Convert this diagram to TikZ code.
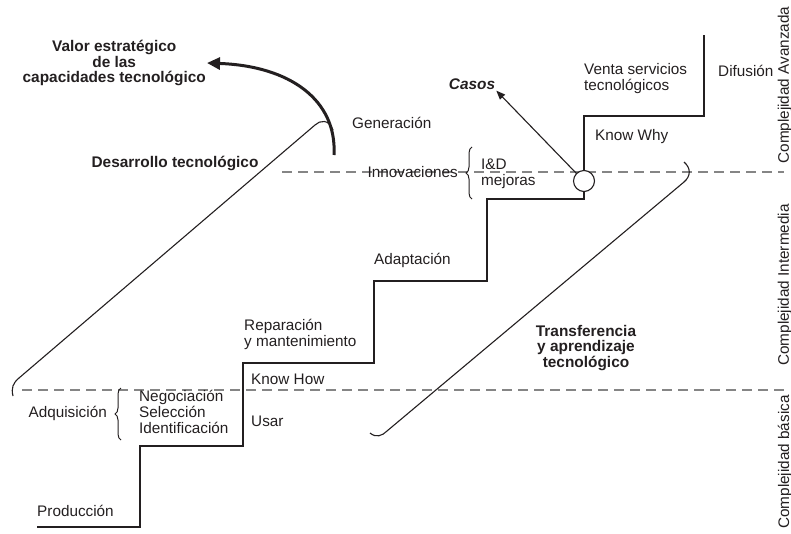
\documentclass[tikz,border=0pt]{standalone}
\usepackage{fontspec}
\setmainfont{Liberation Sans}
\usetikzlibrary{arrows.meta,decorations.pathreplacing}
\definecolor{ink}{HTML}{231F20}
\definecolor{levelgray}{HTML}{858585}

\begin{document}
\begin{tikzpicture}[x=1pt,y=-1pt,
  every node/.style={text=ink,font=\fontsize{15.3}{16}\selectfont,inner sep=1pt},
  lbl/.style={anchor=west,align=left},
  boldlbl/.style={font=\fontsize{15.4}{15.8}\selectfont\bfseries,align=center},
  level/.style={levelgray,line width=1.2pt,dash pattern=on 10pt off 6pt},
  lvltext/.style={rotate=90,anchor=center},
  diag/.style={ink,line width=1.1pt},
  stair/.style={ink,line width=1.4pt},
  bracegroup/.style={ink,line width=1pt,decorate,decoration={brace,amplitude=6pt}}]
\useasboundingbox (0,0) rectangle (791,533);

% complexity levels
\begin{scope}
  \draw[level] (22,390) -- (784,390);
  \draw[level] (282,172) -- (784,172);
  \node[lvltext] (avanzada) at (785,85) {Complejidad Avanzada};
  \node[lvltext] (intermedia) at (785,285) {Complejidad Intermedia};
  \node[lvltext] (basica) at (785,462) {Complejidad básica};
\end{scope}

% the steps
\draw[stair] (37,527) -- (140,527) -- (140,446) -- (243,446) -- (243,363)
  -- (374,363) -- (374,281) -- (487,281) -- (487,199) -- (584,199)
  -- (584,116) -- (704,116) -- (704,35);

% the two slopes
\draw[diag] (13,396) .. controls (11,388) and (13,383) .. (19,378)
  -- (315,125) .. controls (320,120) and (329,119) .. (333,130);
\draw[diag] (370,433) .. controls (376,438) and (382,436) .. (387,431)
  -- (684,182) .. controls (691,176) and (691,168) .. (684,162);

% braces
\draw[bracegroup] (121,440) -- (121,388);
\draw[bracegroup] (472,199) -- (472,147);

% labels
\node[lbl] (produccion) at (36,511) {Producción};
\node[anchor=east] (adquisicion) at (108,413) {Adquisición};
\node[lbl] (pasos) at (138,412) {Negociación\\Selección\\Identificación};
\node[lbl] (usar) at (250,421) {Usar};
\node[lbl] (knowhow) at (250,379) {Know How};
\node[lbl] (reparacion) at (243,334) {Reparación\\y mantenimiento};
\node[lbl] (adaptacion) at (373,260) {Adaptación};
\node[anchor=east] (innovaciones) at (459,172) {Innovaciones};
\node[lbl] (iyd) at (480,174) {I\&D\\mejoras};
\node[lbl] (knowwhy) at (594,137) {Know Why};
\node[lbl] (venta) at (583,79) {Venta servicios\\tecnológicos};
\node[lbl] (difusion) at (717,71) {Difusión};
\node[lbl] (generacion) at (351,123) {Generación};
\node[boldlbl] (desarrollo) at (175,163) {Desarrollo tecnológico};
\node[boldlbl] (transferencia) at (586,348) {Transferencia\\y aprendizaje\\tecnológico};
\node[boldlbl,anchor=east] (valor) at (207,63) {Valor estratégico\\de las\\capacidades tecnológico};
\node[boldlbl,font=\fontsize{15.4}{15.8}\selectfont\bfseries\itshape] (casos) at (472,84) {Casos};

% cases and strategic value
\node[circle,draw=ink,line width=1.1pt,fill=white,minimum size=21pt,inner sep=0pt] (hub) at (584,181) {};
\draw[diag,-{Triangle[length=9pt,width=7pt]}] (hub.135) -- (casos.south east);
\coordinate (gen) at (334,155);
\draw[ink,line width=3pt,-{Triangle[length=13pt,width=12pt]}] (gen)
  .. controls (337,100) and (290,66) .. (valor.east);
\end{tikzpicture}
\end{document}
